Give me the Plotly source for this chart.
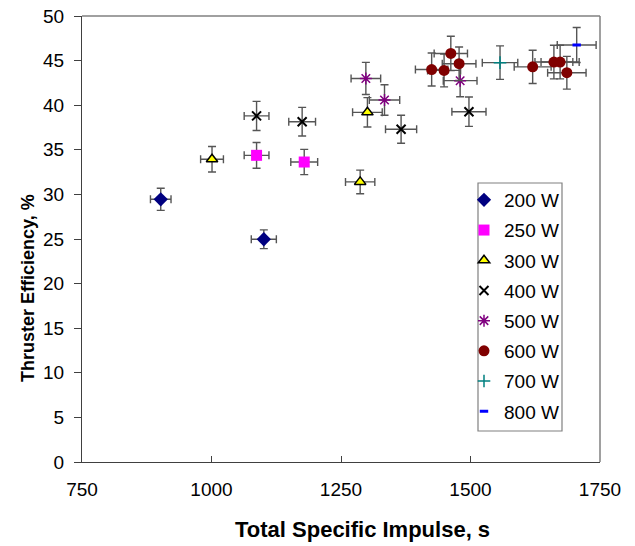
import plotly.graph_objects as go

# Data
isp_200 = [902, 1101]
eff_200 = [29.45, 24.97]
isp_250 = [1087, 1179]
eff_250 = [34.38, 33.63]
isp_300 = [1001, 1301, 1287]
eff_300 = [33.94, 39.2, 31.4]
isp_400 = [1087, 1175, 1366, 1497]
eff_400 = [38.8, 38.15, 37.3, 39.27]
isp_500 = [1298, 1334, 1480]
eff_500 = [43.0, 40.58, 42.75]
isp_600 = [1425, 1449, 1462, 1478, 1620, 1661, 1673, 1686]
eff_600 = [44.0, 43.9, 45.8, 44.65, 44.3, 44.84, 44.84, 43.64]
isp_700 = [1557]
eff_700 = [44.77]
isp_800 = [1705]
eff_800 = [46.75]

series = [
    ("200 W", isp_200, eff_200, dict(symbol="diamond", size=11, color="#000080")),
    ("250 W", isp_250, eff_250, dict(symbol="square", size=11, color="#FF00FF")),
    ("300 W", isp_300, eff_300, dict(symbol="triangle-up", size=10, color="#FFFF00",
                                      line=dict(color="black", width=1.5))),
    ("400 W", isp_400, eff_400, dict(symbol="x-thin-open", size=9, color="black",
                                      line=dict(color="black", width=2))),
    ("500 W", isp_500, eff_500, dict(symbol="asterisk-open", size=10, color="#800080",
                                      line=dict(color="#800080", width=1.5))),
    ("600 W", isp_600, eff_600, dict(symbol="circle", size=11, color="#800000")),
    ("700 W", isp_700, eff_700, dict(symbol="cross-thin-open", size=9, color="#008080",
                                      line=dict(color="#008080", width=1.5))),
    ("800 W", isp_800, eff_800, dict(symbol="line-ew-open", size=6, color="#0000FF",
                                      line=dict(color="#0000FF", width=3))),
]

fig = go.Figure()
for name, xs, ys, mk in series:
    fig.add_trace(go.Scatter(
        x=xs, y=ys, mode="markers", name=name, marker=mk, legendgroup=name,
        error_x=dict(type="percent", value=2.2, color="#555555", thickness=1.4, width=4),
        error_y=dict(type="percent", value=4.2, color="#555555", thickness=1.4, width=4),
    ))

font_family = "Liberation Sans, Arial, sans-serif"

# plot area in pixels: x 82..600, y 16..462
PW, PH = 518, 446

fig.update_layout(
    width=635, height=546,
    margin=dict(l=82, r=35, t=16, b=84, autoexpand=False),
    paper_bgcolor="white", plot_bgcolor="white",
    font=dict(family=font_family, size=19, color="black"),
    showlegend=True,
    legend=dict(x=(464 - 82) / PW, y=(462 - 181) / PH, xanchor="left", yanchor="top",
                borderwidth=0, bgcolor="rgba(0,0,0,0)", tracegroupgap=2.5,
                font=dict(size=19, family=font_family)),
    xaxis=dict(range=[750, 1750], tickvals=[750, 1000, 1250, 1500, 1750],
               showgrid=False, zeroline=False, showline=True, linecolor="#404040",
               linewidth=1, ticks="inside", ticklen=6, tickcolor="#404040",
               ticklabelstandoff=10, automargin=False),
    yaxis=dict(range=[0, 50], tickvals=list(range(0, 51, 5)),
               showgrid=False, zeroline=False, showline=True, linecolor="#404040",
               linewidth=1, ticks="outside", ticklen=7, tickcolor="#404040",
               ticklabelstandoff=6, automargin=False),
    shapes=[
        dict(type="line", xref="paper", yref="paper", x0=0, x1=1, y0=1, y1=1,
             line=dict(color="#808080", width=1.5)),
        dict(type="line", xref="paper", yref="paper", x0=1, x1=1, y0=0, y1=1,
             line=dict(color="#808080", width=1.5)),
        dict(type="rect", xref="paper", yref="paper",
             x0=(478 - 82) / PW, x1=(562 - 82) / PW,
             y0=(462 - 431) / PH, y1=(462 - 183) / PH,
             line=dict(color="#808080", width=1.2), fillcolor="rgba(0,0,0,0)", layer="above"),
    ],
    annotations=[
        dict(text="<b>Total Specific Impulse, s</b>", xref="paper", yref="paper",
             x=(362 - 82) / PW, y=-(529 - 462) / PH, xanchor="center", yanchor="middle",
             showarrow=False, font=dict(size=22, family=font_family)),
        dict(text="<b>Thruster Efficiency, %</b>", xref="paper", yref="paper",
             x=-(82 - 28) / PW, y=(462 - 288) / PH, xanchor="center", yanchor="middle",
             textangle=-90, showarrow=False, font=dict(size=18, family=font_family)),
    ],
)

fig.write_html("out.html",
               config={"displayModeBar": False},
               post_script="document.body.style.margin='0';document.body.style.overflow='hidden';")
